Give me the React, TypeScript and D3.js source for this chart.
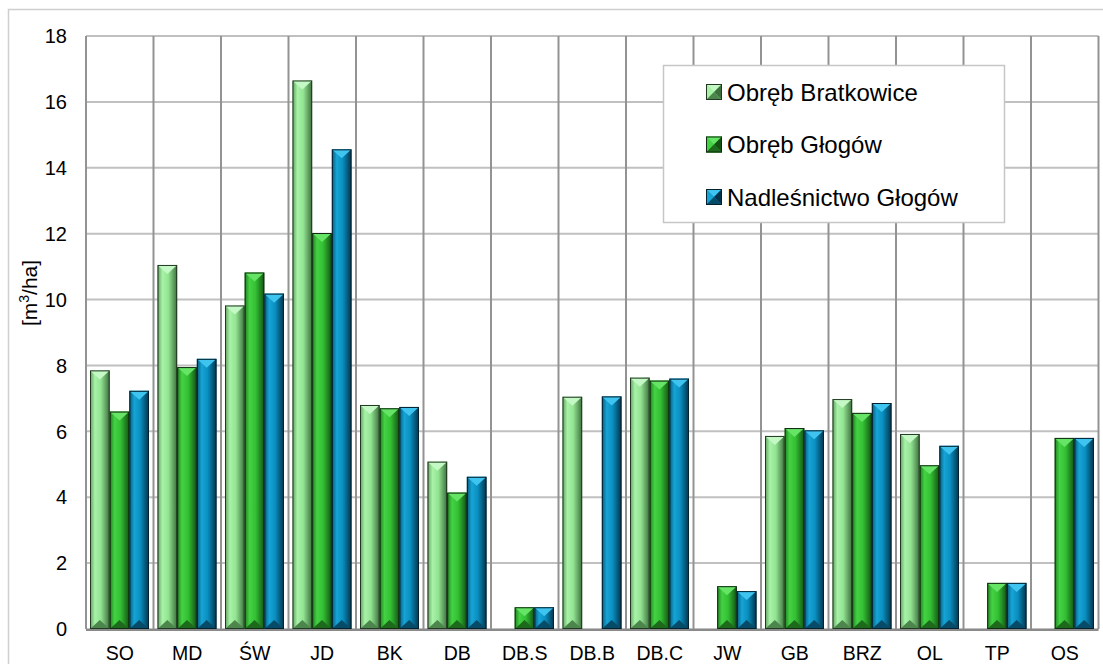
import * as d3 from "d3";

const categories = ["SO", "MD", "ŚW", "JD", "BK", "DB", "DB.S", "DB.B", "DB.C", "JW", "GB", "BRZ", "OL", "TP", "OS"];
const seriesNames = ["Obręb Bratkowice", "Obręb Głogów", "Nadleśnictwo Głogów"];

const bratkowice = [7.85, 11.05, 9.82, 16.65, 6.8, 5.08, null, 7.05, 7.63, null, 5.86, 6.98, 5.92, null, null];
const glogow = [6.6, 7.95, 10.82, 12.02, 6.7, 4.14, 0.66, null, 7.54, 1.3, 6.1, 6.56, 4.97, 1.4, 5.8];
const nadlesnictwo = [7.23, 8.2, 10.18, 14.56, 6.74, 4.62, 0.66, 7.06, 7.6, 1.15, 6.03, 6.86, 5.56, 1.4, 5.8];

const yTicks = [0, 2, 4, 6, 8, 10, 12, 14, 16, 18];

const palette = [
  { edgeL: "#5f9f5f", mid: "#a8f2a8", core: "#92e492", edgeR: "#3d6e3d", top: "#c4f8c4", bottom: "#4c864c", stroke: "#223822" },
  { edgeL: "#1f7f1f", mid: "#44d244", core: "#33c133", edgeR: "#145214", top: "#66e466", bottom: "#1d6a1d", stroke: "#0f2a0f" },
  { edgeL: "#07597a", mid: "#16a4d6", core: "#0a8fc0", edgeR: "#03324a", top: "#3fc4f0", bottom: "#064c68", stroke: "#02202e" },
];

const left = 86;
const right = 1098.5;
const top = 36;
const bottom = 629;
const font = "'Liberation Sans', Arial, sans-serif";

export default function App() {
  const allSeries = [bratkowice, glogow, nadlesnictwo];
  const x0 = d3.scaleBand<string>().domain(categories).range([left, right]).padding(0);
  const bw = x0.bandwidth();
  const x1 = d3.scaleBand<number>().domain([0, 1, 2]).range([4, bw - 4.5]).padding(0);
  const y = d3.scaleLinear().domain([0, 18]).range([bottom, top]);
  const w = x1.bandwidth();

  const bars: any[] = [];
  categories.forEach((c, i) => {
    allSeries.forEach((s, k) => {
      const v = s[i];
      if (v == null) return;
      bars.push({ key: `${c}-${k}`, k, x: (x0(c) as number) + (x1(k) as number), yTop: y(v) });
    });
  });

  const tri = Math.min(w * 0.5, 9);

  return (
    <svg width={1103} height={664} style={{ position: "absolute", left: 0, top: 0 }}>
      <defs>
        {palette.map((p, k) => (
          <linearGradient key={k} id={`g${k}`} x1="0" x2="1" y1="0" y2="0">
            <stop offset="0%" stopColor={p.edgeL} />
            <stop offset="25%" stopColor={p.mid} />
            <stop offset="55%" stopColor={p.core} />
            <stop offset="100%" stopColor={p.edgeR} />
          </linearGradient>
        ))}
      </defs>
      <rect x={0} y={0} width={1103} height={664} fill="#fff" />
      {/* outer chart border */}
      <rect x={8.5} y={9.5} width={1110} height={680} fill="none" stroke="#cfcfcf" strokeWidth={1.5} />

      {/* horizontal gridlines */}
      {yTicks.map((t) => (
        <line key={t} x1={left} x2={right} y1={y(t)} y2={y(t)} stroke="#c0c0c0" strokeWidth={2} />
      ))}
      {/* vertical gridlines */}
      {d3.range(categories.length + 1).map((i) => (
        <line key={i} x1={left + i * bw} x2={left + i * bw} y1={top} y2={bottom} stroke="#939393" strokeWidth={2} />
      ))}

      {/* bars */}
      {bars.map((b) => {
        const p = palette[b.k];
        const h = bottom - b.yTop;
        const t = Math.min(tri, h / 2);
        return (
          <g key={b.key}>
            <rect x={b.x} y={b.yTop} width={w} height={h} fill={`url(#g${b.k})`} />
            <polygon points={`${b.x},${b.yTop} ${b.x + w},${b.yTop} ${b.x + w / 2},${b.yTop + t}`} fill={p.top} />
            <polygon points={`${b.x},${bottom} ${b.x + w},${bottom} ${b.x + w / 2},${bottom - t}`} fill={p.bottom} />
            <rect x={b.x + 0.5} y={b.yTop + 0.5} width={w - 1} height={h - 1} fill="none" stroke={p.stroke} strokeWidth={1} />
          </g>
        );
      })}

      {/* axis base */}
      <line x1={left} x2={right} y1={bottom + 1} y2={bottom + 1} stroke="#8a8a8a" strokeWidth={2} />

      {/* y tick labels */}
      {yTicks.map((t) => (
        <text key={t} x={67} y={y(t)} dy="0.36em" textAnchor="end" fontFamily={font} fontSize={20} fill="#000">
          {t}
        </text>
      ))}
      {/* x labels */}
      {categories.map((c) => (
        <text key={c} x={(x0(c) as number) + bw / 2} y={660} textAnchor="middle" fontFamily={font} fontSize={19.5} fill="#000">
          {c}
        </text>
      ))}
      {/* y axis title */}
      <text transform={`translate(37,293) rotate(-90)`} textAnchor="middle" fontFamily={font} fontSize={21} fill="#000">
        [m<tspan dy={-8} fontSize={14}>3</tspan><tspan dy={8}>/ha]</tspan>
      </text>

      {/* legend */}
      <rect x={663.5} y={65.5} width={341} height={157} fill="#fff" stroke="#c6c6c6" strokeWidth={1.5} />
      {seriesNames.map((n, k) => {
        const p = palette[k];
        const cy = 92 + k * 52.5;
        const mx = 706;
        const my = cy - 8;
        const s = 16;
        return (
          <g key={n}>
            <rect x={mx} y={my} width={s} height={s} fill={p.core} />
            <polygon points={`${mx},${my} ${mx + s},${my} ${mx + s / 2},${my + s / 2}`} fill={p.top} />
            <polygon points={`${mx},${my} ${mx},${my + s} ${mx + s / 2},${my + s / 2}`} fill={p.mid} />
            <polygon points={`${mx + s},${my} ${mx + s},${my + s} ${mx + s / 2},${my + s / 2}`} fill={p.edgeR} />
            <polygon points={`${mx},${my + s} ${mx + s},${my + s} ${mx + s / 2},${my + s / 2}`} fill={p.bottom} />
            <rect x={mx + 0.5} y={my + 0.5} width={s - 1} height={s - 1} fill="none" stroke={p.stroke} strokeWidth={1} />
            <text x={727} y={cy} dy="0.36em" fontFamily={font} fontSize={24} fill="#000">
              {n}
            </text>
          </g>
        );
      })}
    </svg>
  );
}
